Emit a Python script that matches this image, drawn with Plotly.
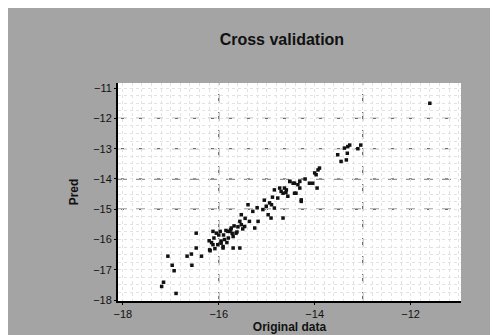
import plotly.graph_objects as go

# Original vs predicted values
original = [
    -17.06, -16.97, -16.93, -17.15, -17.19, -16.89, -16.66, -16.57, -16.56, -16.47,
    -16.47, -16.36, -16.18, -16.20, -16.12, -15.95, -15.91, -16.05, -15.97, -15.77,
    -15.74, -15.70, -15.56, -15.53, -16.19, -16.12, -16.02, -15.91, -15.88, -15.81,
    -15.70, -15.64, -15.56, -15.53, -15.46, -15.39, -15.36, -15.29, -15.25, -15.18,
    -15.08, -15.01, -14.97, -14.94, -14.91, -14.84, -14.77, -14.66, -14.70, -14.63,
    -14.56, -14.52, -14.45, -14.42, -14.35, -14.31, -14.28, -14.90, -14.84, -14.73,
    -14.66, -14.59, -14.52, -14.42, -14.31, -14.28, -14.39, -14.11, -14.04, -13.97,
    -13.93, -13.90, -13.95, -13.52, -13.45, -13.34, -13.32, -13.31, -13.27, -13.38,
    -13.04, -11.60, -16.10, -16.00, -15.85, -15.80, -15.62, -15.50, -15.95, -16.08,
    -15.83, -15.68, -15.45, -15.20, -15.05, -14.88, -14.60, -14.20, -14.00, -13.10,
    -15.90, -15.75, -15.60, -16.15, -15.72,
]
predicted = [
    -16.55, -16.85, -17.03, -17.41, -17.55, -17.78, -16.55, -16.48, -16.85, -15.79,
    -16.28, -16.55, -16.37, -16.04, -16.17, -16.12, -16.28, -15.79, -15.73, -15.73,
    -15.62, -16.28, -16.28, -15.51, -16.34, -15.73, -16.17, -16.23, -16.00, -15.73,
    -15.90, -15.79, -15.40, -15.18, -15.57, -14.85, -15.40, -15.07, -15.62, -15.40,
    -15.01, -14.90, -15.18, -14.79, -15.29, -14.96, -14.63, -15.29, -14.41, -14.30,
    -14.57, -14.08, -14.14, -14.47, -14.19, -14.30, -14.74, -14.85, -14.36, -14.30,
    -14.47, -14.36, -14.08, -14.14, -14.08, -14.69, -14.47, -14.14, -14.14, -13.86,
    -13.70, -13.64, -14.30, -13.20, -13.42, -13.37, -13.15, -12.93, -12.88, -12.98,
    -12.88, -11.50, -15.95, -15.85, -15.70, -15.95, -15.75, -15.65, -16.05, -16.30,
    -16.10, -15.55, -15.30, -14.95, -14.70, -14.60, -14.45, -14.00, -13.80, -13.00,
    -15.85, -15.68, -15.58, -16.10, -15.80,
]

x_ticks = [-18, -16, -14, -12]
y_ticks = [-18, -17, -16, -15, -14, -13, -12, -11]
h_grid = [-12, -13, -14, -15]
v_grid = [-16, -13]

fig = go.Figure()
fig.add_trace(go.Scatter(
    x=original, y=predicted, mode="markers",
    marker=dict(symbol="square", size=3.5, color="#111111"),
    showlegend=False,
))

for v in h_grid:
    fig.add_shape(type="line", xref="paper", x0=0, x1=1, yref="y", y0=v, y1=v,
                  line=dict(color="#6f6f6f", width=1.3, dash="dash"), layer="below")
for v in v_grid:
    fig.add_shape(type="line", yref="paper", y0=0, y1=1, xref="x", x0=v, x1=v,
                  line=dict(color="#6f6f6f", width=1.3, dash="dash"), layer="below")

fig.update_layout(
    width=498, height=335,
    margin=dict(l=110, r=45, t=75, b=42),
    paper_bgcolor="#a4a4a4",
    plot_bgcolor="#ffffff",
    font=dict(family="Liberation Sans, Arial, sans-serif", color="#111111", size=11),
    title=dict(text="<b>Cross validation</b>", x=0.55, xanchor="center", y=0.905, yanchor="middle",
               font=dict(size=16, color="#111111")),
    xaxis=dict(
        range=[-18.1, -10.95], tickvals=x_ticks, showgrid=False, zeroline=False,
        showline=True, linecolor="#000000", linewidth=2, ticks="outside", ticklen=2,
        tickcolor="#000000", tickfont=dict(size=11),
        minor=dict(dtick=0.2, showgrid=True, gridcolor="#e2e2e2", griddash="dot", gridwidth=1),
        title=dict(text="<b>Original data</b>", standoff=0, font=dict(size=12)),
    ),
    yaxis=dict(
        range=[-18.03, -10.83], tickvals=y_ticks, showgrid=False, zeroline=False,
        showline=True, linecolor="#000000", linewidth=2, ticks="outside", ticklen=2,
        tickcolor="#000000", tickfont=dict(size=11),
        minor=dict(dtick=0.25, showgrid=True, gridcolor="#e2e2e2", griddash="dot", gridwidth=1),
        title=dict(text="<b>Pred</b>", standoff=12, font=dict(size=12)),
    ),
)

fig.write_html("out.html")
